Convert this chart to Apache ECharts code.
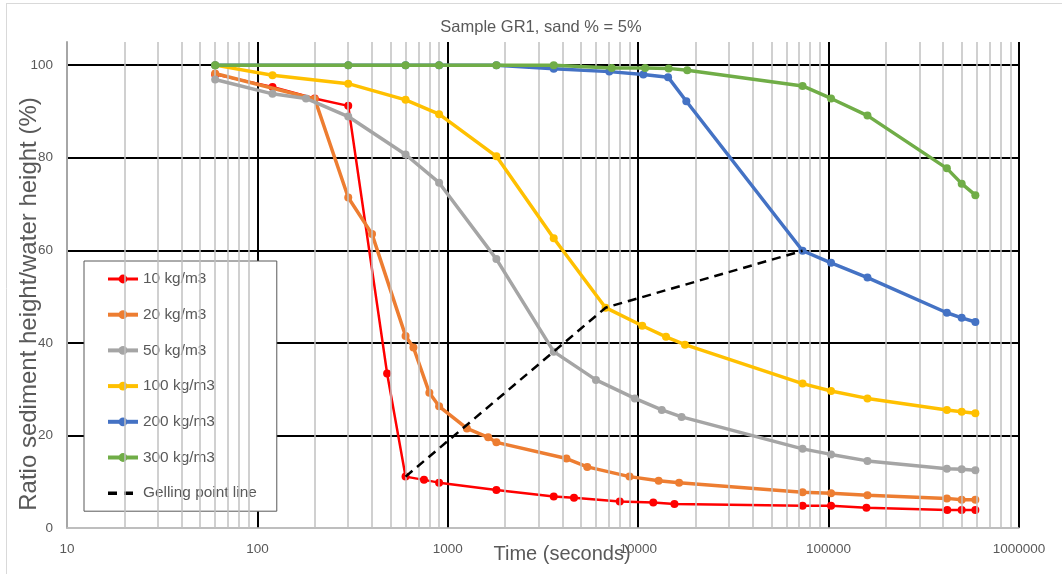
<!DOCTYPE html>
<html>
<head>
<meta charset="utf-8">
<script src="https://cdn.jsdelivr.net/npm/echarts@6/dist/echarts.min.js"></script>
<style>
html,body{margin:0;padding:0;background:#fff;}
#c{width:1062px;height:574px;}
</style>
</head>
<body>
<div id="c"></div>
<script>
// ---- data (time in seconds, ratio in %) ----
const t10  = [60, 120, 200, 300, 480, 600, 750, 900, 1800, 3600, 4600, 8000, 12000, 15500, 73000, 103000, 158000, 420000, 500000, 590000];
const v10  = [98, 95.3, 92.8, 91.2, 33.4, 11.1, 10.4, 9.8, 8.2, 6.8, 6.55, 5.7, 5.5, 5.2, 4.8, 4.8, 4.4, 3.9, 3.9, 3.9];

const t20  = [60, 200, 300, 400, 600, 660, 800, 900, 1260, 1630, 1800, 4200, 5400, 9000, 12800, 16400, 73000, 103000, 160000, 418000, 500000, 590000];
const v20  = [98.2, 92.7, 71.4, 63.5, 41.5, 39.0, 29.2, 26.3, 21.5, 19.6, 18.5, 15.0, 13.2, 11.1, 10.2, 9.8, 7.7, 7.5, 7.1, 6.4, 6.1, 6.1];

const t50  = [60, 120, 180, 300, 600, 900, 1800, 3600, 6000, 9600, 13300, 16900, 73000, 103000, 160000, 418000, 500000, 590000];
const v50  = [96.9, 93.8, 92.8, 88.9, 80.7, 74.6, 58.1, 38.1, 32.0, 28.0, 25.5, 24.0, 17.1, 15.9, 14.5, 12.8, 12.7, 12.5];

const t100 = [60, 120, 300, 600, 900, 1800, 3600, 6740, 10500, 14000, 17600, 73000, 103000, 160000, 418000, 500000, 590000];
const v100 = [100, 97.8, 96.0, 92.5, 89.4, 80.3, 62.6, 47.6, 43.7, 41.3, 39.6, 31.2, 29.6, 28.0, 25.5, 25.1, 24.8];

const t200 = [60, 300, 600, 900, 1800, 3600, 7050, 10640, 14350, 17900, 73000, 103000, 160000, 418000, 500000, 590000];
const v200 = [100, 100, 100, 100, 100, 99.2, 98.6, 98.0, 97.4, 92.2, 59.9, 57.3, 54.1, 46.5, 45.4, 44.5];

const t300 = [60, 300, 600, 900, 1800, 3600, 7260, 10870, 14450, 18100, 73000, 103000, 160000, 418000, 500000, 590000];
const v300 = [100, 100, 100, 100, 100, 100, 99.4, 99.4, 99.3, 98.9, 95.5, 92.8, 89.1, 77.7, 74.4, 71.9];

const tGel = [600, 3600, 6740, 73000];
const vGel = [11.1, 38.1, 47.6, 59.9];

const seriesNames = ['10 kg/m3', '20 kg/m3', '50 kg/m3', '100 kg/m3', '200 kg/m3', '300 kg/m3'];
const gelName = 'Gelling point line';
const yTicks = [0, 20, 40, 60, 80, 100];
const xDecades = [10, 100, 1000, 10000, 100000, 1000000];

// ---- build ----
const zip = (t, v) => t.map((x, i) => [x, v[i]]);
const colors = ['#FF0000', '#ED7D31', '#A5A5A5', '#FFC000', '#4472C4', '#70AD47'];
const widths = [2.5, 3.5, 3.5, 3.5, 3.5, 3.5];
const sets = [[t10, v10], [t20, v20], [t50, v50], [t100, v100], [t200, v200], [t300, v300]];

// minor vertical grid positions (2..9 of every decade)
const minor = [];
for (let d = 0; d < xDecades.length - 1; d++) {
  for (let k = 2; k <= 9; k++) minor.push({ xAxis: xDecades[d] * k });
}

const font = 'Liberation Sans, Arial, sans-serif';
const series = [{
  name: 'minor-grid',
  type: 'line',
  data: [],
  z: -1,
  silent: true,
  markLine: {
    silent: true,
    symbol: 'none',
    label: { show: false },
    lineStyle: { color: '#c0c0c0', width: 1.5, type: 'solid' },
    emphasis: { disabled: true },
    animation: false,
    data: minor
  }
}];
sets.forEach((s, i) => {
  series.push({
    name: seriesNames[i],
    type: 'line',
    data: zip(s[0], s[1]),
    symbol: 'circle',
    symbolSize: 8,
    itemStyle: { color: colors[i] },
    lineStyle: { color: colors[i], width: widths[i] },
    z: 3 + i
  });
});
series.push({
  name: gelName,
  type: 'line',
  data: zip(tGel, vGel),
  symbol: 'none',
  itemStyle: { color: '#000' },
  lineStyle: { color: '#000', width: 2.5, type: [9, 6] },
  z: 10
});

const legendData = seriesNames.map((n, i) => ({
  name: n,
  lineStyle: { width: i === 0 ? 3 : 4 }
})).concat([{
  name: gelName,
  itemStyle: { color: 'rgba(0,0,0,0)', borderWidth: 0, opacity: 0 },
  lineStyle: { width: 3.5, type: [9, 7], color: '#000' }
}]);

const chart = echarts.init(document.getElementById('c'), null, { renderer: 'canvas' });
chart.setOption({
  animation: false,
  backgroundColor: '#fff',
  title: {
    text: 'Sample GR1, sand % = 5%',
    left: 536, top: 14, textAlign: 'center',
    textStyle: { fontFamily: font, fontSize: 16.5, fontWeight: 'normal', color: '#595959' }
  },
  graphic: [
    { type: 'line', shape: { x1: 6, y1: 3.5, x2: 1062, y2: 3.5 }, style: { stroke: '#d9d9d9', lineWidth: 1 } },
    { type: 'line', shape: { x1: 6.5, y1: 3, x2: 6.5, y2: 574 }, style: { stroke: '#d9d9d9', lineWidth: 1 } }
  ],
  grid: { left: 67, right: 43, top: 42, bottom: 46, containLabel: false, outerBoundsMode: 'none' },
  legend: {
    data: legendData,
    orient: 'vertical',
    left: 84, top: 261,
    padding: [10, 20, 10, 22],
    itemGap: 19.7,
    itemWidth: 30,
    itemHeight: 11,
    backgroundColor: '#fff',
    borderColor: '#595959',
    borderWidth: 1,
    textStyle: { fontFamily: font, fontSize: 15.4, lineHeight: 16, color: '#595959' }
  },
  xAxis: {
    type: 'log',
    logBase: 10,
    min: 10,
    max: 1000000,
    name: 'Time (seconds)',
    nameLocation: 'middle',
    nameGap: 16,
    nameMoveOverlap: false,
    nameTextStyle: { fontFamily: font, fontSize: 20, color: '#595959', padding: [0, 0, 0, 38] },
    axisLine: { show: true, lineStyle: { color: '#bfbfbf', width: 1.5 } },
    axisTick: { show: false },
    axisLabel: {
      fontFamily: font, fontSize: 13.5, color: '#595959', margin: 14,
      formatter: v => String(Math.round(v))
    },
    splitLine: { show: true, lineStyle: { color: ['#a6a6a6', '#000', '#000', '#000', '#000', '#000'], width: 2 } }
  },
  yAxis: {
    type: 'value',
    min: 0,
    max: 105,
    interval: 20,
    name: 'Ratio sediment height/water height (%)',
    nameLocation: 'middle',
    nameRotate: 90,
    nameGap: 26,
    nameMoveOverlap: false,
    nameTextStyle: { fontFamily: font, fontSize: 24, color: '#595959', padding: [0, 38, 0, 0] },
    axisLine: { show: true, lineStyle: { color: '#a6a6a6', width: 2 } },
    axisTick: { show: false },
    axisLabel: {
      fontFamily: font, fontSize: 13.5, color: '#595959', margin: 14,
      formatter: v => (yTicks.indexOf(v) >= 0 ? String(v) : '')
    },
    splitLine: { show: true, lineStyle: { color: ['#bfbfbf', '#000', '#000', '#000', '#000', '#000', 'rgba(0,0,0,0)'], width: 2 } }
  },
  series: series
});
</script>
</body>
</html>
